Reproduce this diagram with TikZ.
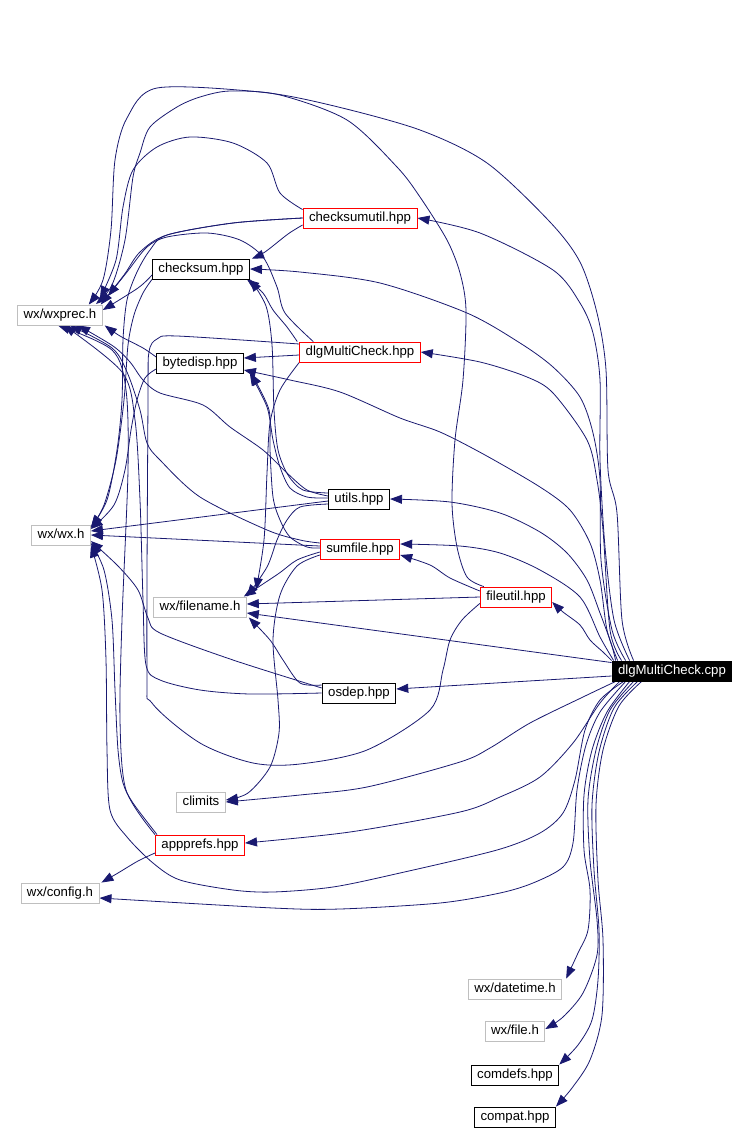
\documentclass[tikz,border=0pt]{standalone}
\usepackage{fontspec}
\setmainfont{Liberation Sans}
\usetikzlibrary{arrows.meta}
\definecolor{edgeblue}{HTML}{191970}
\definecolor{sysgray}{HTML}{BFBFBF}
\pgfdeclarelayer{edges}
\pgfsetlayers{edges,main}
\tikzset{
  file/.style={draw, line width=0.9pt, fill=white, inner xsep=6pt, inner ysep=0pt,
    minimum height=20pt, text height=9.8pt, text depth=2.8pt},
  sysinc/.style={file, draw=sysgray},
  inc/.style={file, draw=black},
  redinc/.style={file, draw=red},
  mainfile/.style={file, draw=black, fill=black, text=white},
  dep/.style={draw=edgeblue, line width=0.8pt, -{Triangle[length=12pt,width=9pt]}},
  link/.style={draw=edgeblue, line width=0.8pt}
}
\begin{document}
\begin{tikzpicture}[x=1pt,y=-1pt,font=\fontsize{13.2}{15}\selectfont]
  \useasboundingbox (0,0) rectangle (748,1132);
  % nodes
  \node[redinc]   (csu)  at (360,218) {checksumutil.hpp};
  \node[inc]      (cs)   at (201,269) {checksum.hpp};
  \node[sysinc]   (wxp)  at (60,315)  {wx/wxprec.h};
  \node[redinc]   (dlgh) at (360,352) {dlgMultiCheck.hpp};
  \node[inc]      (bd)   at (200,363) {bytedisp.hpp};
  \node[inc]      (ut)   at (359,499) {utils.hpp};
  \node[sysinc]   (wxh)  at (61,535)  {wx/wx.h};
  \node[redinc]   (sf)   at (360,549) {sumfile.hpp};
  \node[sysinc]   (fn)   at (200,607) {wx/filename.h};
  \node[redinc]   (fu)   at (516,597) {fileutil.hpp};
  \node[mainfile] (cpp)  at (672,671) {dlgMultiCheck.cpp};
  \node[inc]      (os)   at (359,693) {osdep.hpp};
  \node[sysinc]   (cl)   at (201,802) {climits};
  \node[redinc]   (ap)   at (200,845) {appprefs.hpp};
  \node[sysinc]   (cfg)  at (60,893)  {wx/config.h};
  \node[sysinc]   (dt)   at (515,989) {wx/datetime.h};
  \node[sysinc]   (wf)   at (515,1031) {wx/file.h};
  \node[inc]      (cd)   at (515,1075) {comdefs.hpp};
  \node[inc]      (cp)   at (515,1117) {compat.hpp};

  \begin{pgfonlayer}{edges}
  % dlgMultiCheck.cpp, upwards
  \draw[dep] plot[smooth] coordinates {([xshift=22pt]cpp.north west) (622,620) (617,513) (608,470) (606,370) (597,313) (580,262) (550,222) (487,163) (420,130) (330,105) (260,92) (157,88) (127,118) (115,160) (111,230) (103,280) ([xshift=-14pt]wxp.north east)};
  \draw[dep] plot[smooth] coordinates {([xshift=18pt]cpp.north west) (614,620) (605,547) (600,460) (600,380) (593,333) (580,303) (553,270) (480,233) (csu.east)};
  \draw[dep] plot[smooth] coordinates {([xshift=14pt]cpp.north west) (612,630) (601,560) (600,480) (593,433) (580,397) (553,367) (520,343) (467,313) (380,283) (300,272) (cs.east)};
  \draw[dep] plot[smooth] coordinates {([xshift=10pt]cpp.north west) (610,630) (603,530) (597,480) (587,440) (553,393) (527,377) (480,362) (dlgh.east)};
  \draw[dep] plot[smooth] coordinates {([xshift=6pt]cpp.north west) (607,630) (600,580) (590,543) (570,510) (540,487) (485,455) (440,432) (400,418) (340,392) (290,380) ([yshift=-7pt]bd.east)};
  \draw[dep] plot[smooth] coordinates {([xshift=4pt]cpp.north west) (611,643) (600,613) (587,580) (567,553) (540,532) (500,513) (450,502) (ut.east)};
  \draw[dep] plot[smooth] coordinates {([xshift=2pt]cpp.north west) (600,637) (580,597) (540,570) (500,553) (460,546) ([yshift=5pt]sf.east)};
  \draw[dep] plot[smooth] coordinates {(cpp.north west) (603,652) (590,640) (580,625) (563,612) ([yshift=-5pt]fu.east)};
  \draw[dep] ([yshift=-2pt]cpp.north west) -- ([yshift=-6pt]fn.east);
  \draw[dep] ([yshift=-5pt]cpp.west) -- ([yshift=4pt]os.east);

  % dlgMultiCheck.cpp, downwards
  \draw[dep] plot[smooth] coordinates {([xshift=4pt]cpp.south west) (583,697) (530,723) (490,748) (460,762) (367,787) (300,795) (cl.east)};
  \draw[dep] plot[smooth] coordinates {([xshift=8pt]cpp.south west) (600,703) (573,743) (540,777) (500,797) (460,812) (350,832) ([yshift=2pt]ap.east)};
  \draw[dep] plot[smooth] coordinates {([xshift=12pt]cpp.south west) (600,700) (585,730) (575,780) (563,813) (540,833) (497,850) (400,873) (333,887) (273,892) (233,890) (180,880) (153,863) (127,837) (110,810) (107,750) (106,660) (102,590) (wxh.south east)};
  \draw[dep] plot[smooth] coordinates {([xshift=14pt]cpp.south west) (600,712) (586,745) (577,790) (573,843) (563,867) (533,883) (500,893) (440,903) (340,909) (273,908) ([yshift=-5pt]cfg.east)};
  \draw[dep] plot[smooth] coordinates {([xshift=18pt]cpp.south west) (607,712) (592,750) (584,795) (584,850) (590,890) (588,930) (578,953) ([xshift=4pt]dt.north east)};
  \draw[dep] plot[smooth] coordinates {([xshift=22pt]cpp.south west) (610,710) (596,750) (588,800) (590,860) (597,920) (597,955) (583,993) (563,1017) ([yshift=2pt]wf.east)};
  \draw[dep] plot[smooth] coordinates {([xshift=26pt]cpp.south west) (614,708) (599,752) (592,805) (594,870) (599,930) (598,980) (592,1020) (578,1045) (cd.north east)};
  \draw[dep] plot[smooth] coordinates {([xshift=30pt]cpp.south west) (619,706) (603,750) (596,805) (598,880) (603,940) (602,1015) (590,1060) (572,1088) (cp.north east)};

  % checksumutil.hpp
  \draw[dep] plot[smooth] coordinates {([yshift=-7pt]csu.west) (288,234) (265,252) ([xshift=2pt]cs.north east)};
  \draw[dep] plot[smooth] coordinates {([yshift=-2pt]csu.north west) (280,193) (267,163) (233,143) (190,137) (157,147) (133,170) (123,207) (116,260) (100,298)};
  \draw[dep] plot[smooth] coordinates {(csu.west) (233,223) (167,235) (140,252) (124,275) ([xshift=-2pt]wxp.north east)};
  \draw[dep] plot[smooth] coordinates {(csu.west) (233,223) (167,235) (150,250) (137,272) (127,300) (123,340) (122,400) (117,450) (107,500) ([yshift=8pt]wxh.east)};

  % checksum.hpp
  \draw[dep] plot[smooth] coordinates {([yshift=-6pt]cs.west) (138,288) ([yshift=5pt]wxp.east)};
  \draw[dep] plot[smooth] coordinates {(cs.south west) (143,293) (134,315) (128,345) (124,400) (116,460) (104,505) ([yshift=7pt]wxh.east)};

  % dlgMultiCheck.hpp
  \draw[dep] plot[smooth] coordinates {([xshift=-2pt]dlgh.north west) (287,327) (273,310) (263,293) ([xshift=-3pt]cs.south east)};
  \draw[dep] plot[smooth] coordinates {([xshift=14pt]dlgh.north west) (285,313) (277,287) (263,257) (240,240) (207,233) (167,237) (147,247) (127,272) (108,296)};
  \draw[dep] ([yshift=-3pt]dlgh.west) -- ([yshift=5pt]bd.east);
  \draw[dep] plot[smooth] coordinates {(dlgh.south west) (280,390) (270,423) (267,473) (264,540) (256,590)};
  \draw[link] plot[smooth] coordinates {([yshift=8pt]dlgh.west) (177,336) (157,339) (149,352) (148,400) (147,670) (152,703) (200,743) (253,763) (300,764) (367,750) (430,710) (443,670) (450,640) (462,620) ([yshift=4pt]fu.south west)};

  % bytedisp.hpp
  \draw[dep] plot[smooth] coordinates {([yshift=6pt]bd.west) (143,348) (120,336) ([xshift=2pt]wxp.south east)};
  \draw[dep] plot[smooth] coordinates {([yshift=-6pt]bd.west) (145,378) (137,400) (131,430) (125,470) (114,505) ([yshift=6pt]wxh.east)};

  % utils.hpp
  \draw[dep] ([yshift=-2pt]ut.west) -- ([yshift=4pt]wxh.east);
  \draw[dep] plot[smooth] coordinates {([yshift=3pt]ut.west) (307,490) (287,473) (263,450) (230,427) (203,405) (160,393) (143,380) (130,362) (113,346) ([xshift=18pt]wxp.south)};
  \draw[dep] plot[smooth] coordinates {([yshift=6pt]ut.west) (303,490) (288,475) (278,450) (274,410) (272,345) (266,306) (cs.south east)};
  \draw[dep] plot[smooth] coordinates {([yshift=1pt]ut.west) (307,497) (290,488) (280,467) (273,440) (267,407) ([xshift=6pt]bd.south east)};
  \draw[dep] plot[smooth] coordinates {([yshift=-5pt]ut.west) (300,507) (287,520) (277,540) (267,567) (fn.north east)};

  % sumfile.hpp
  \draw[dep] ([yshift=3pt]sf.west) -- (wxh.east);
  \draw[dep] plot[smooth] coordinates {([yshift=6pt]sf.west) (300,540) (267,530) (200,497) (160,460) (147,443) (140,410) (127,372) (112,348) ([xshift=10pt]wxp.south)};
  \draw[dep] plot[smooth] coordinates {([yshift=1pt]sf.west) (307,547) (290,537) (280,520) (273,497) (270,450) (269,410) ([xshift=7pt]bd.south east)};
  \draw[dep] plot[smooth] coordinates {([yshift=-3pt]sf.west) (297,560) (278,574) ([xshift=-3pt]fn.north east)};
  \draw[dep] plot[smooth] coordinates {([yshift=-6pt]sf.west) (297,566) (280,595) (273,640) (278,700) (279,733) (270,767) (248,793) ([yshift=2pt]cl.east)};

  % fileutil.hpp
  \draw[dep] (fu.west) -- ([yshift=3pt]fn.east);
  \draw[dep] plot[smooth] coordinates {([yshift=6pt]fu.west) (450,578) (430,565) ([yshift=-6pt]sf.east)};
  \draw[dep] plot[smooth] coordinates {([xshift=4pt]fu.north west) (467,577) (457,547) (452,503) (455,440) (463,380) (466,310) (460,273) (447,240) (420,197) (397,167) (347,120) (280,95) (230,91) (200,97) (177,107) (150,127) (140,153) (133,177) (125,240) (112,285) (96,304)};

  % osdep.hpp
  \draw[dep] plot[smooth] coordinates {([yshift=5pt]os.west) (233,660) (160,633) (148,618) (138,590) (118,566) ([yshift=-6pt]wxh.east)};
  \draw[dep] plot[smooth] coordinates {(os.west) (250,694) (200,690) (160,680) (146,665) (143,600) (140,500) (135,420) (122,372) ([xshift=4pt]wxp.south)};
  \draw[dep] plot[smooth] coordinates {([yshift=8pt]os.west) (300,683) (283,660) (270,640) ([xshift=2pt]fn.south east)};

  % appprefs.hpp
  \draw[dep] plot[smooth] coordinates {([xshift=2pt]ap.north west) (133,803) (123,783) (118,750) (115,690) (112,620) (104,570) ([yshift=-8pt]wxh.east)};
  \draw[dep] plot[smooth] coordinates {(ap.north west) (126,790) (120,720) (122,620) (128,470) (126,390) (112,350) ([xshift=-2pt]wxp.south)};
  \draw[dep] plot[smooth] coordinates {([yshift=-8pt]ap.west) (138,861) (118,873) ([xshift=2pt]cfg.north east)};
  \end{pgfonlayer}
\end{tikzpicture}
\end{document}
